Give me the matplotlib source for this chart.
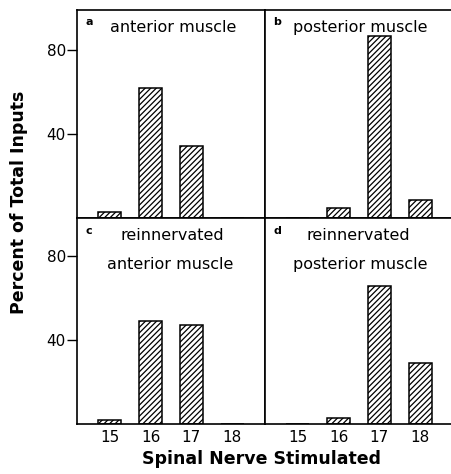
import numpy as np
import matplotlib
matplotlib.use("Agg")
import matplotlib.pyplot as plt

plt.rcParams['font.family'] = 'DejaVu Sans'
plt.rcParams['hatch.linewidth'] = 0.9

# Spinal nerves stimulated and percent of total inputs per panel
nerves = [15, 16, 17, 18]
anterior = [3, 62, 34.3, 0]
posterior = [0, 4.9, 86.7, 8.6]
reinn_anterior = [1.8, 48.9, 47.3, 0]
reinn_posterior = [0, 2.7, 65.7, 29.2]

panel_letters = ['a', 'b', 'c', 'd']
# (text, left x, centre y) in axes fractions
panel_titles = [[('anterior muscle', 0.176, 0.918)],
                [('posterior muscle', 0.149, 0.918)],
                [('reinnervated', 0.229, 0.913), ('anterior muscle', 0.160, 0.772)],
                [('reinnervated', 0.223, 0.913), ('posterior muscle', 0.149, 0.772)]]
yticks = [40, 80]

W, H = 451, 474
fig = plt.figure(figsize=(W / 100, H / 100), dpi=100)

def px_axes(x0, y_top, w, h):
    return fig.add_axes([x0 / W, 1 - (y_top + h) / H, w / W, h / H])

ax_a = px_axes(77, 10, 188, 208)
ax_b = px_axes(265, 10, 188, 208)
ax_c = px_axes(77, 218, 188, 206)
ax_d = px_axes(265, 218, 188, 206)
axes = [ax_a, ax_b, ax_c, ax_d]
data = [anterior, posterior, reinn_anterior, reinn_posterior]

for i, (ax, vals) in enumerate(zip(axes, data)):
    ax.bar(nerves, vals, width=0.56, color='white', edgecolor='black',
           linewidth=1.1, hatch='//////')
    ax.set_xlim(14.2, 18.8)
    ax.set_ylim(0, 99 if i < 2 else 98)
    for s in ax.spines.values():
        s.set_linewidth(1.2)
    ax.tick_params(axis='x', length=0, labelsize=11, pad=4)
    ax.set_xticks(nerves)
    if i < 2:
        ax.set_xticklabels([])
    if i % 2 == 0:
        ax.set_yticks(yticks)
        ax.tick_params(axis='y', direction='out', length=7, width=1,
                       labelsize=11, pad=1)
    else:
        ax.set_yticks([])

    ax.text(0.065, 0.942 if i < 2 else 0.937, panel_letters[i],
            transform=ax.transAxes, fontsize=8, fontweight='bold',
            ha='center', va='center')
    for txt, tx, ty in panel_titles[i]:
        ax.text(tx, ty, txt, transform=ax.transAxes, fontsize=11.5,
                ha='left', va='center')

fig.text(19 / W, 1 - 202 / H, 'Percent of Total Inputs', rotation=90,
         fontsize=12.5, fontweight='bold', ha='center', va='center')
fig.text(261 / W, 1 - 459 / H, 'Spinal Nerve Stimulated',
         fontsize=12.5, fontweight='bold', ha='center', va='center')

fig.savefig('out.png', dpi=100)
